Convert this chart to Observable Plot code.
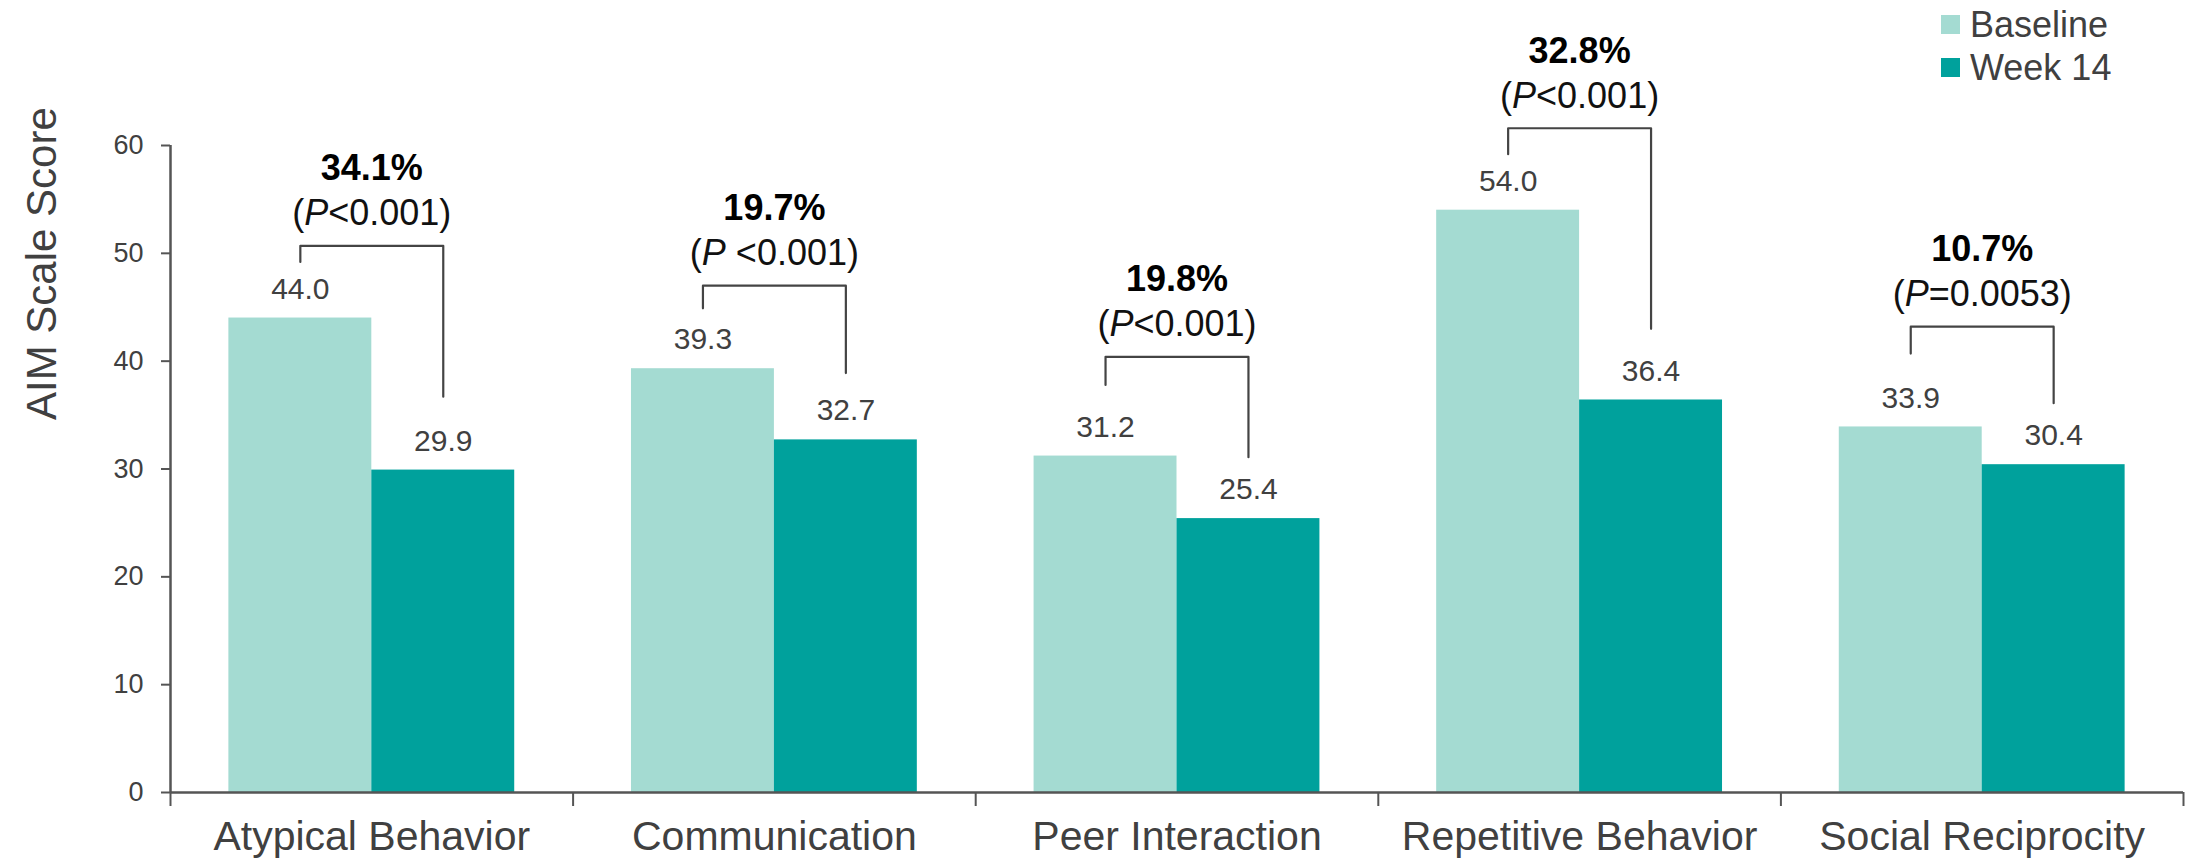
<!DOCTYPE html>
<html>
<head>
<meta charset="utf-8">
<script src="https://cdn.jsdelivr.net/npm/d3@7"></script>
<script src="https://cdn.jsdelivr.net/npm/@observablehq/plot@0.6"></script>
<style>
  body { margin: 0; background: #fff; font-family: "Liberation Sans", Arial, sans-serif; }
  #wrap { position: relative; width: 2190px; height: 863px; overflow: hidden; }
  #legend { position: absolute; left: 1941px; top: 3px; color: #404040; font-size: 36px; }
  #legend .row { display: flex; align-items: center; height: 43px; }
  #legend .sw { width: 19px; height: 19px; margin-right: 10px; display: inline-block; }
</style>
</head>
<body>
<div id="wrap">
  <div id="chart"></div>
  <div id="legend"></div>
</div>
<script>
// ---- data ----
const categories = ["Atypical Behavior", "Communication", "Peer Interaction", "Repetitive Behavior", "Social Reciprocity"];
const series = ["Baseline", "Week 14"];
const baselineValues = [44.0, 39.3, 31.2, 54.0, 33.9];
const week14Values = [29.9, 32.7, 25.4, 36.4, 30.4];
const pctChange = ["34.1%", "19.7%", "19.8%", "32.8%", "10.7%"];
const pLabels = ["(P<0.001)", "(P <0.001)", "(P<0.001)", "(P<0.001)", "(P=0.0053)"];
const bracketTop = [50.7, 47.0, 40.4, 61.6, 43.2];
const bracketLeftEnd = [49.2, 44.9, 37.8, 59.2, 40.7];
const bracketRightEnd = [36.7, 38.9, 31.1, 43.0, 36.1];
const yTicks = [0, 10, 20, 30, 40, 50, 60];
const seriesColors = ["#a4dbd2", "#00a19c"];

// ---- layout helpers ----
const PAD = 0.145; // empty fraction of each category slot on each side
const leftCenter = (PAD + 0.5) / 2;
const rightCenter = (1.5 - PAD) / 2;
const FONT = '"Liberation Sans", Arial, sans-serif';

const bars = categories.flatMap((c, i) => [
  {c, i, s: series[0], v: baselineValues[i]},
  {c, i, s: series[1], v: week14Values[i]}
]);
const annots = categories.map((c, i) => ({c, i, top: bracketTop[i], pct: pctChange[i], p: pLabels[i]}));
const bracketPts = categories.flatMap((c, i) => [
  {i, x: i + leftCenter, y: bracketLeftEnd[i]},
  {i, x: i + leftCenter, y: bracketTop[i]},
  {i, x: i + rightCenter, y: bracketTop[i]},
  {i, x: i + rightCenter, y: bracketRightEnd[i]}
]);

const chart = Plot.plot({
  width: 2190,
  height: 863,
  marginLeft: 170,
  marginRight: 7,
  marginTop: 145,
  marginBottom: 71,
  style: {fontFamily: FONT, background: "white", overflow: "visible"},
  x: {domain: [0, categories.length], axis: null},
  y: {domain: [0, 60], axis: null},
  color: {domain: series, range: seriesColors},
  marks: [
    Plot.rectY(bars, {
      x1: d => d.i + (d.s === series[0] ? PAD : 0.5),
      x2: d => d.i + (d.s === series[0] ? 0.5 : 1 - PAD),
      y1: 0, y2: "v", fill: "s"
    }),
    Plot.ruleY([0], {stroke: "#555", strokeWidth: 2.5}),
    Plot.ruleX([0], {y1: 0, y2: 60, stroke: "#555", strokeWidth: 2.5}),
    Plot.axisY({ticks: yTicks, tickSize: 9, tickPadding: 18, fontSize: 27, stroke: "#555", strokeWidth: 2, fill: "#404040", label: null}),
    Plot.axisX({ticks: d3.range(categories.length + 1), tickFormat: () => "", tickSize: 14, stroke: "#555", strokeWidth: 2, label: null}),
    Plot.axisX({ticks: categories.map((c, i) => i + 0.5), tickFormat: v => categories[Math.floor(v)], tickSize: 0, tickPadding: 28, fontSize: 41, fill: "#404040", label: null}),
    Plot.text(["AIM Scale Score"], {frameAnchor: "left", rotate: -90, dx: -128, dy: -49, fontSize: 42, fill: "#404040"}),
    Plot.text(bars, {
      x: d => d.i + (d.s === series[0] ? leftCenter : rightCenter),
      y: "v", text: d => d.v.toFixed(1), dy: -29, fontSize: 30, fill: "#404040"
    }),
    Plot.line(bracketPts, {x: "x", y: "y", z: "i", stroke: "#444", strokeWidth: 2.2}),
    Plot.text(annots, {x: d => d.i + 0.5, y: "top", text: "pct", dy: -77, fontSize: 36, fontWeight: "bold", fill: "#000"}),
    Plot.text(annots, {x: d => d.i + 0.5, y: "top", text: "p", dy: -32, fontSize: 36, fill: "#111", className: "plabel"})
  ]
});
document.getElementById("chart").appendChild(chart);

// italicise the P in the p-value labels
chart.querySelectorAll(".plabel text").forEach(t => {
  const s = t.textContent;
  const k = s.indexOf("P");
  if (k < 0) return;
  t.textContent = "";
  t.appendChild(document.createTextNode(s.slice(0, k)));
  const ts = document.createElementNS("http://www.w3.org/2000/svg", "tspan");
  ts.setAttribute("font-style", "italic");
  ts.textContent = "P";
  t.appendChild(ts);
  t.appendChild(document.createTextNode(s.slice(k + 1)));
});

// legend
const legend = document.getElementById("legend");
series.forEach((s, i) => {
  const row = document.createElement("div");
  row.className = "row";
  const sw = document.createElement("span");
  sw.className = "sw";
  sw.style.background = seriesColors[i];
  row.appendChild(sw);
  row.appendChild(document.createTextNode(s));
  legend.appendChild(row);
});
</script>
</body>
</html>
